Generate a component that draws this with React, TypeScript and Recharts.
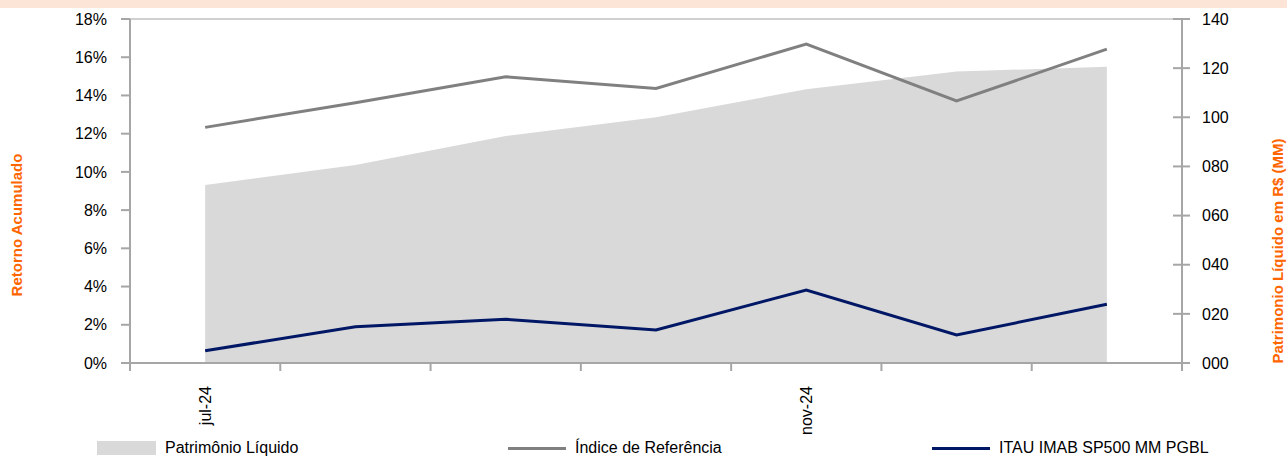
import { ComposedChart, Area, Line, XAxis, YAxis, ReferenceLine } from "recharts";

const CATEGORIES = ["jul-24", "ago-24", "set-24", "out-24", "nov-24", "dez-24", "jan-25"];
const LABELED = ["jul-24", "nov-24"];
const PATRIMONIO = [72.4, 80.6, 92.4, 100.0, 111.4, 118.6, 120.6]; // R$ MM
const INDICE = [12.33, 13.62, 14.98, 14.37, 16.69, 13.71, 16.42]; // %
const FUNDO = [0.64, 1.9, 2.29, 1.73, 3.82, 1.47, 3.07]; // %
const LEFT_TICKS = [0, 2, 4, 6, 8, 10, 12, 14, 16, 18];
const RIGHT_TICKS = [0, 20, 40, 60, 80, 100, 120, 140];

const AXIS = "#a6a6a6";
const ORANGE = "#ff6600";
const AREA_FILL = "#d9d9d9";
const GRAY_LINE = "#808080";
const NAVY = "#001766";
const FONT = "'Liberation Sans', Arial, sans-serif";

const W = 1287;
const H = 456;
const PLOT_LEFT = 130;
const PLOT_RIGHT = 1182;
const PLOT_TOP = 19;
const PLOT_BOTTOM = 363;

const data = CATEGORIES.map((month, i) => ({
  month,
  patrimonio: PATRIMONIO[i],
  indice: INDICE[i],
  fundo: FUNDO[i],
}));

const XTick = (props: any) => {
  const { x, y, payload, index } = props;
  const half = (PLOT_RIGHT - PLOT_LEFT) / CATEGORIES.length / 2;
  return (
    <g>
      <line x1={x - half} x2={x - half} y1={y} y2={y + 8} stroke={AXIS} strokeWidth={2} />
      {index === CATEGORIES.length - 1 && (
        <line x1={x + half} x2={x + half} y1={y} y2={y + 8} stroke={AXIS} strokeWidth={2} />
      )}
      {LABELED.includes(payload.value) && (
        <text
          transform={`translate(${x},${y + 23}) rotate(-90)`}
          textAnchor="end"
          dy="0.36em"
          fontSize={16}
          fill="#000"
        >
          {payload.value}
        </text>
      )}
    </g>
  );
};

const RightTick = (props: any) => {
  const { x, y, payload } = props;
  return (
    <g>
      <line x1={x - 9} x2={x + 8} y1={y} y2={y} stroke={AXIS} strokeWidth={2} />
      <text x={x + 20} y={y} dy="0.355em" fontSize={16} fill="#000">
        {String(payload.value).padStart(3, "0")}
      </text>
    </g>
  );
};

const LEGEND = [
  { label: "Patrimônio Líquido", kind: "area", color: AREA_FILL, left: 97 },
  { label: "Índice de Referência", kind: "line", color: GRAY_LINE, left: 508 },
  { label: "ITAU IMAB SP500 MM PGBL", kind: "line", color: NAVY, left: 932 },
];

const App = () => {
  return (
    <div style={{ position: "absolute", left: 0, top: 0, width: W, height: H, fontFamily: FONT, background: "#fff", overflow: "hidden" }}>
      <div style={{ position: "absolute", left: 0, top: 0, width: W, height: 8, background: "#fce4d6" }} />
      <ComposedChart
        width={W}
        height={H}
        data={data}
        margin={{ top: PLOT_TOP, right: 0, bottom: 0, left: 0 }}
      >
        <XAxis
          dataKey="month"
          scale="band"
          interval={0}
          tickLine={false}
          tickSize={0}
          tickMargin={0}
          height={H - PLOT_BOTTOM}
          axisLine={{ stroke: AXIS, strokeWidth: 2 }}
          tick={<XTick />}
        />
        <YAxis
          yAxisId="left"
          orientation="left"
          width={PLOT_LEFT}
          domain={[0, 18]}
          ticks={LEFT_TICKS}
          interval={0}
          tickFormatter={(v: number) => `${v}%`}
          tickSize={9}
          tickMargin={14}
          tickLine={{ stroke: AXIS, strokeWidth: 2 }}
          axisLine={{ stroke: AXIS, strokeWidth: 2 }}
          tick={{ fontSize: 16, fill: "#000" }}
        />
        <YAxis
          yAxisId="right"
          orientation="right"
          width={W - PLOT_RIGHT}
          domain={[0, 140]}
          ticks={RIGHT_TICKS}
          interval={0}
          tickSize={0}
          tickMargin={0}
          tickLine={false}
          axisLine={{ stroke: AXIS, strokeWidth: 2 }}
          tick={<RightTick />}
        />
        <ReferenceLine yAxisId="left" y={18} stroke="#d0d0d0" strokeWidth={2} />
        <Area
          yAxisId="right"
          dataKey="patrimonio"
          type="linear"
          fill={AREA_FILL}
          fillOpacity={1}
          stroke="none"
          isAnimationActive={false}
        />
        <Line
          yAxisId="left"
          dataKey="indice"
          type="linear"
          stroke={GRAY_LINE}
          strokeWidth={3}
          dot={false}
          isAnimationActive={false}
        />
        <Line
          yAxisId="left"
          dataKey="fundo"
          type="linear"
          stroke={NAVY}
          strokeWidth={3}
          dot={false}
          isAnimationActive={false}
        />
      </ComposedChart>

      <div
        style={{
          position: "absolute",
          left: 16,
          top: 225,
          transform: "translate(-50%, -50%) rotate(-90deg)",
          whiteSpace: "nowrap",
          color: ORANGE,
          fontWeight: 700,
          fontSize: 15,
        }}
      >
        Retorno Acumulado
      </div>
      <div
        style={{
          position: "absolute",
          left: 1277,
          top: 251,
          transform: "translate(-50%, -50%) rotate(-90deg)",
          whiteSpace: "nowrap",
          color: ORANGE,
          fontWeight: 700,
          fontSize: 15,
        }}
      >
        Patrimonio Líquido em R$ (MM)
      </div>

      {LEGEND.map((item) => (
        <div
          key={item.label}
          style={{ position: "absolute", left: item.left, top: 439, height: 18, display: "flex", alignItems: "center", fontSize: 16, color: "#000", whiteSpace: "nowrap" }}
        >
          {item.kind === "area" ? (
            <span style={{ display: "inline-block", width: 59, height: 14, background: item.color, marginRight: 9 }} />
          ) : (
            <span style={{ display: "inline-block", width: 58, height: 3, background: item.color, marginRight: 9 }} />
          )}
          {item.label}
        </div>
      ))}
    </div>
  );
};

export default App;
